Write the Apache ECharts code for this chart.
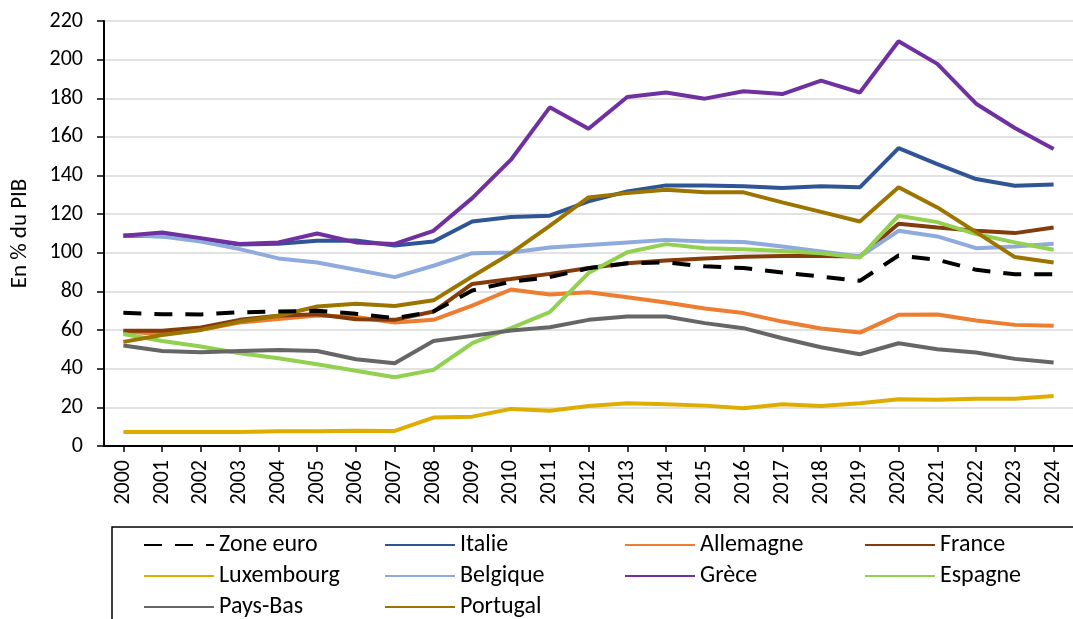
<!DOCTYPE html>
<html><head><meta charset="utf-8">
<script src="https://cdn.jsdelivr.net/npm/echarts@6/dist/echarts.min.js"></script>
<style>html,body{margin:0;padding:0;background:#fff}#c{width:1073px;height:619px}</style>
</head><body><div id="c"></div>
<script>
const years = ['2000','2001','2002','2003','2004','2005','2006','2007','2008','2009','2010','2011','2012','2013','2014','2015','2016','2017','2018','2019','2020','2021','2022','2023','2024'];
const yTicks = [0,20,40,60,80,100,120,140,160,180,200,220];
const zoneEuro   = [69.0,68.2,68.1,69.2,69.6,70.0,68.4,66.2,69.6,80.5,85.0,87.4,92.0,94.6,95.0,93.0,92.1,89.8,87.7,85.5,98.6,96.4,91.2,88.9,88.9];
const italie     = [108.8,108.6,107.0,104.3,104.7,106.2,106.4,103.8,105.9,116.2,118.5,119.2,126.6,131.8,134.9,134.9,134.4,133.5,134.4,133.9,154.2,145.9,138.2,134.7,135.4];
const allemagne  = [59.3,58.0,60.2,63.9,65.7,67.6,66.8,63.9,65.3,72.7,81.0,78.4,79.6,77.0,74.3,71.2,68.8,64.4,60.8,58.7,67.9,68.1,65.0,62.7,62.2];
const france     = [59.6,59.6,61.4,65.3,67.4,68.2,65.6,65.3,69.6,83.9,86.4,89.1,92.1,94.6,96.0,97.1,98.0,98.4,98.4,98.1,115.0,113.1,111.4,110.2,113.1];
const luxembourg = [7.3,7.3,7.2,7.3,7.6,7.6,7.9,7.8,14.7,15.2,19.2,18.3,20.7,22.1,21.6,20.9,19.6,21.6,20.7,22.1,24.2,23.9,24.5,24.4,25.9];
const belgique   = [109.2,108.5,105.9,101.9,97.1,95.0,91.2,87.4,93.3,99.8,100.2,102.8,104.1,105.4,106.7,105.9,105.6,103.3,100.7,98.1,111.4,108.5,102.4,103.3,104.7];
const grece      = [108.8,110.5,107.6,104.6,105.4,110.0,105.4,104.6,111.4,128.3,148.2,175.3,164.2,180.7,183.0,179.8,183.6,182.2,189.1,183.0,209.5,197.8,177.2,164.6,153.7];
const espagne    = [58.0,54.4,51.5,48.0,45.4,42.3,39.0,35.6,39.4,53.2,61.0,69.3,89.5,100.3,104.5,102.4,101.9,101.0,99.8,97.6,119.2,115.9,109.7,105.4,101.6];
const paysBas    = [52.0,49.2,48.5,49.2,49.7,49.2,44.9,42.8,54.4,57.0,59.8,61.5,65.3,67.0,67.0,63.6,61.0,55.8,51.1,47.5,53.2,50.1,48.4,45.1,43.2];
const portugal   = [53.9,57.5,60.1,64.4,67.4,72.2,73.6,72.5,75.4,87.7,99.8,114.0,128.7,130.9,132.6,131.3,131.3,126.1,121.2,116.2,133.9,123.5,110.7,97.8,95.0];

const FONT = 'Carlito, Lato, "Liberation Sans", sans-serif';
const seriesDefs = [
  ['Zone euro', zoneEuro, '#000000', [18,13]],
  ['Italie', italie, '#2F5597'],
  ['Allemagne', allemagne, '#ED7D31'],
  ['France', france, '#843C0C'],
  ['Luxembourg', luxembourg, '#DFAC00'],
  ['Belgique', belgique, '#8FAADC'],
  ['Grèce', grece, '#7030A0'],
  ['Espagne', espagne, '#92D050'],
  ['Pays-Bas', paysBas, '#666666'],
  ['Portugal', portugal, '#9C7400']
];
const order = [1,2,3,4,5,7,8,9,6,0];
const series = order.map(i => {
  const d = seriesDefs[i];
  return {
    name: d[0], type: 'line', data: d[1], symbol: 'none', smooth: false,
    itemStyle: {color: d[2]},
    lineStyle: {color: d[2], width: 4, type: d[3] || 'solid', cap: 'butt'},
    emphasis: {disabled: true}, z: 2 + order.indexOf(i)
  };
});
const legendCommon = {
  orient: 'vertical', top: 533, itemWidth: 70, itemHeight: 24, itemGap: 7, padding: 0,
  itemStyle: {opacity: 0},
  textStyle: {fontFamily: FONT, fontSize: 24, color: '#000', lineHeight: 24},
  selectedMode: false
};
const cols = [
  [143, ['Zone euro','Luxembourg','Pays-Bas']],
  [384, ['Italie','Belgique','Portugal']],
  [624, ['Allemagne','Grèce']],
  [864, ['France','Espagne']]
];
const chart = echarts.init(document.getElementById('c'), null, {renderer: 'canvas'});
chart.setOption({
  animation: false,
  backgroundColor: '#fff',
  grid: {left: 104, top: 21, width: 979.5, height: 425, containLabel: false},
  xAxis: {
    type: 'category', data: years, boundaryGap: true,
    axisLine: {lineStyle: {color: '#000', width: 2}},
    axisTick: {show: true, alignWithLabel: true, length: 6, lineStyle: {color: '#000', width: 1.5}},
    axisLabel: {rotate: 90, margin: 14, fontFamily: FONT, fontSize: 22, color: '#000', interval: 0},
    splitLine: {show: false}
  },
  yAxis: {
    type: 'value', min: 0, max: 220, interval: 20,
    name: 'En % du PIB', nameLocation: 'middle', nameGap: 72,
    nameTextStyle: {fontFamily: FONT, fontSize: 23, color: '#000'},
    axisLine: {show: true, lineStyle: {color: '#000', width: 2}},
    axisTick: {show: true, length: 7, lineStyle: {color: '#000', width: 1.5}},
    axisLabel: {margin: 21, fontFamily: FONT, fontSize: 22, color: '#000'},
    splitLine: {show: true, lineStyle: {color: '#D9D9D9', width: 1.5}}
  },
  legend: cols.map(c => Object.assign({}, legendCommon, {left: c[0], data: c[1]})),
  graphic: [{
    type: 'rect', shape: {x: 112, y: 527, width: 1000, height: 200},
    style: {fill: 'none', stroke: '#000', lineWidth: 1.5}, z: 0, silent: true
  }],
  series: series
});
</script>
</body></html>
